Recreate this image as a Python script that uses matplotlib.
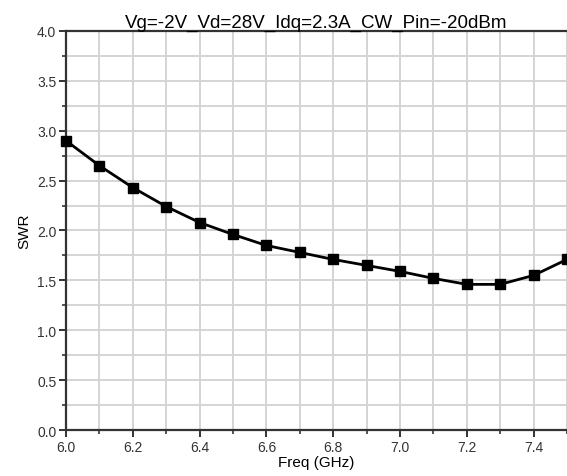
import matplotlib
matplotlib.use('Agg')
import matplotlib.pyplot as plt
from matplotlib.ticker import MultipleLocator

plt.rcParams['font.family'] = ['Liberation Sans', 'DejaVu Sans']

freq = [6.0, 6.1, 6.2, 6.3, 6.4, 6.5, 6.6, 6.7, 6.8, 6.9, 7.0, 7.1, 7.2, 7.3, 7.4, 7.5]
swr = [2.90, 2.65, 2.43, 2.24, 2.08, 1.96, 1.85, 1.78, 1.71, 1.65, 1.59, 1.52, 1.46, 1.46, 1.55, 1.71]

fig = plt.figure(figsize=(5.67, 4.77), dpi=100)
ax = fig.add_axes([0.1164, 0.0964, 0.8836, 0.8366])

ax.plot(freq, swr, color='black', linewidth=2, marker='s', markersize=6.5, clip_on=False, zorder=3)

ax.set_xlim(6.0, 7.5)
ax.set_ylim(0.0, 4.0)
ax.xaxis.set_minor_locator(MultipleLocator(0.1))
ax.yaxis.set_major_locator(MultipleLocator(0.5))
ax.yaxis.set_minor_locator(MultipleLocator(0.25))
ax.set_xticks([6.0, 6.2, 6.4, 6.6, 6.8, 7.0, 7.2, 7.4])
ax.set_yticklabels(['%.1f' % v for v in ax.get_yticks()])

ax.grid(True, which='both', color='#d4d4d4', linewidth=1.4, zorder=0)
ax.set_axisbelow(True)

for side in ['left', 'bottom', 'top']:
    ax.spines[side].set_linewidth(1.6)
    ax.spines[side].set_color('#333333')
ax.spines['right'].set_visible(False)

ax.tick_params(which='major', direction='out', length=5, width=1.4, labelsize=10,
               colors='#333333', pad=2)
ax.tick_params(which='minor', direction='out', length=3, width=1.2, colors='#333333')

ax.set_title('Vg=-2V_Vd=28V_Idq=2.3A_CW_Pin=-20dBm', fontsize=13.5, pad=2)
ax.set_xlabel('Freq (GHz)', fontsize=11, labelpad=1)
ax.set_ylabel('SWR', fontsize=11, labelpad=4)

fig.savefig('out.png', dpi=100)
